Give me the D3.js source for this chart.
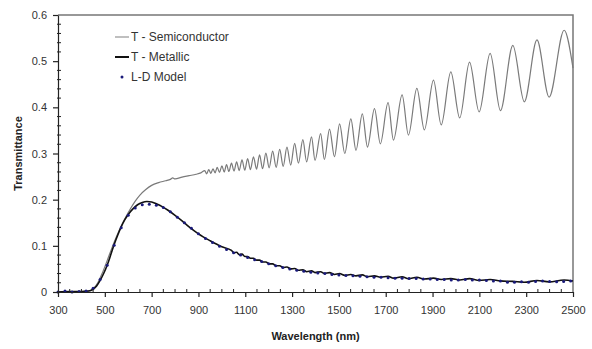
<!DOCTYPE html>
<html>
<head>
<meta charset="utf-8">
<script src="https://cdn.jsdelivr.net/npm/d3@7"></script>
<style>
body { margin: 0; background: #fff; }
svg text { font-family: "Liberation Sans", Arial, sans-serif; fill: #333; }
.axis-title { font-weight: bold; font-size: 11px; fill: #222; }
</style>
</head>
<body>
<div class="chart-wrapper"></div>
<script>

// wavelength (nm) / transmittance
const semiconductor = [
	[300,0],[350,0.001],[400,0.001],[430,0.002],[450,0.007],[470,0.02],[490,0.042],[510,0.068],
	[530,0.095],[550,0.12],[570,0.143],[590,0.163],[610,0.181],[630,0.197],[650,0.21],[675,0.222],
	[700,0.231],[730,0.237],[760,0.241],[780,0.244],[790,0.247],[800,0.245],[830,0.249],[860,0.252],
	[890,0.255],[910,0.258],
	[927,0.263],[935,0.256],[944,0.265],[953,0.257],[962,0.267],[971,0.258],[980,0.27],[990,0.259],
	[1000,0.273],[1010,0.26],[1020,0.276],[1030,0.261],[1041,0.279],[1052,0.262],[1063,0.282],[1074,0.263],
	[1086,0.286],[1098,0.264],[1110,0.289],[1122,0.265],[1135,0.293],[1148,0.266],[1161,0.297],[1174,0.267],
	[1188,0.301],[1202,0.269],[1217,0.305],[1232,0.27],[1247,0.309],[1262,0.272],[1278,0.314],[1294,0.275],
	[1311,0.322],[1327,0.279],[1346,0.33],[1362,0.282],[1383,0.336],[1398,0.285],[1422,0.343],[1438,0.287],
	[1460,0.353],[1481,0.293],[1503,0.364],[1525,0.3],[1551,0.375],[1573,0.307],[1600,0.386],[1622,0.314],
	[1652,0.397],[1677,0.321],[1710,0.41],[1733,0.329],[1770,0.427],[1797,0.34],[1833,0.441],[1865,0.351],
	[1904,0.459],[1937,0.362],[1978,0.477],[2016,0.377],[2058,0.498],[2099,0.39],[2146,0.517],[2190,0.393],
	[2243,0.534],[2292,0.412],[2346,0.546],[2398,0.422],[2462,0.567],[2500,0.485]
]

const metallic = [
	[300,0],[350,0.001],[400,0.001],[430,0.002],[450,0.006],[465,0.013],[480,0.025],[495,0.04],
	[510,0.058],[525,0.08],[540,0.103],[555,0.123],[570,0.141],[585,0.156],[600,0.168],[620,0.18],
	[640,0.189],[660,0.194],[680,0.196],[700,0.195],[720,0.191],[745,0.185],[770,0.177],[800,0.166],
	[830,0.154],[860,0.141],[900,0.126],[950,0.111],[1000,0.098],
	[1041,0.09],[1052,0.085],[1063,0.086],[1074,0.081],[1086,0.082],[1098,0.077],[1110,0.077],[1122,0.073],
	[1135,0.073],[1148,0.069],[1161,0.069],[1174,0.065],[1188,0.065],[1202,0.061],[1217,0.061],[1232,0.057],
	[1247,0.057],[1262,0.053],[1278,0.054],[1294,0.05],[1311,0.051],[1327,0.047],[1346,0.048],[1362,0.044],
	[1383,0.046],[1398,0.042],[1422,0.044],[1438,0.04],[1460,0.042],[1481,0.038],[1503,0.04],[1525,0.036],
	[1551,0.038],[1573,0.035],[1600,0.037],[1622,0.033],[1652,0.035],[1677,0.032],[1710,0.034],[1733,0.03],
	[1770,0.033],[1797,0.029],[1833,0.032],[1865,0.028],[1904,0.03],[1937,0.027],[1978,0.029],[2016,0.026],
	[2058,0.029],[2099,0.025],[2146,0.027],[2190,0.024],[2243,0.023],[2292,0.021],[2346,0.025],[2398,0.022],
	[2462,0.026],[2500,0.024]
]

const ldModel = [
	[300,0],[330,0.002],[360,0],[390,0.001],[420,0.002],[450,0.008],[480,0.027],[510,0.058],
	[540,0.101],[570,0.139],[600,0.166],[630,0.182],[660,0.189],[690,0.19],[720,0.188],[750,0.183],
	[780,0.174],[810,0.162],[840,0.15],[870,0.138],[900,0.126],[930,0.116],[960,0.107],[990,0.099],
	[1020,0.092],[1050,0.085],[1080,0.08],[1110,0.075],[1140,0.07],[1170,0.066],[1200,0.061],[1230,0.057],
	[1260,0.053],[1290,0.05],[1320,0.047],[1350,0.045],[1380,0.043],[1410,0.041],[1440,0.04],[1470,0.038],
	[1500,0.037],[1530,0.036],[1560,0.035],[1590,0.034],[1620,0.033],[1650,0.032],[1680,0.032],[1710,0.031],
	[1740,0.03],[1770,0.03],[1800,0.029],[1830,0.029],[1860,0.028],[1890,0.028],[1920,0.027],[1950,0.027],
	[1980,0.026],[2010,0.026],[2040,0.027],[2070,0.026],[2100,0.026],[2130,0.025],[2160,0.024],[2190,0.024],
	[2220,0.021],[2250,0.021],[2280,0.022],[2310,0.021],[2340,0.023],[2370,0.024],[2400,0.023],[2430,0.022],
	[2460,0.023],[2490,0.024]
]

const xTicks = [300,500,700,900,1100,1300,1500,1700,1900,2100,2300,2500]
const yTicks = [0,0.1,0.2,0.3,0.4,0.5,0.6]
const legendItems = ['T - Semiconductor', 'T - Metallic', 'L-D Model']

let width = 592
let height = 349
let margin = {top: 15, right: 19, bottom: 57, left: 58}

let svg = d3.select('.chart-wrapper').append('svg')
.attr('width', width)
.attr('height', height)

let x = d3.scaleLinear().domain([300, 2500]).range([margin.left, width - margin.right])
let y = d3.scaleLinear().domain([0, 0.6]).range([height - margin.bottom, margin.top])

// frame (top / right)
svg.append('path')
.attr('d', `M${x(300)},${y(0.6)}H${x(2500)}V${y(0)}`)
.attr('fill', 'none')
.attr('stroke', '#777')
.attr('stroke-width', 1.5)

let line = d3.line()
.x(d => x(d[0]))
.y(d => y(d[1]))
.curve(d3.curveMonotoneX)

svg.append('path')
.datum(semiconductor)
.attr('d', line)
.attr('fill', 'none')
.attr('stroke', '#7a7a7a')
.attr('stroke-width', 1.2)

svg.append('path')
.datum(metallic)
.attr('d', line)
.attr('fill', 'none')
.attr('stroke', '#111')
.attr('stroke-width', 1.6)

svg.append('g')
.selectAll('circle')
.data(ldModel)
.enter()
.append('circle')
.attr('cx', d => x(d[0]))
.attr('cy', d => y(d[1]))
.attr('r', 1.5)
.attr('fill', '#1a1a7a')

// X AXIS

let xAxis = svg.append('g')
.attr('transform', `translate(0,${y(0)})`)
.call(d3.axisBottom(x).tickValues(xTicks).tickFormat(d3.format('d')).tickSize(5).tickSizeOuter(0).tickPadding(9))

xAxis.selectAll('text').style('font-size', '11px')

svg.append('g')
.selectAll('line')
.data(d3.range(300, 2501, 50).filter(v => xTicks.indexOf(v) == -1))
.enter()
.append('line')
.attr('x1', d => x(d)).attr('x2', d => x(d))
.attr('y1', y(0) - 3).attr('y2', y(0) + 1)
.attr('stroke', '#222')

// Y AXIS

let yAxis = svg.append('g')
.attr('transform', `translate(${x(300)},0)`)
.call(d3.axisLeft(y).tickValues(yTicks).tickFormat(d => d == 0 ? '0' : d3.format('.1f')(d)).tickSize(5).tickSizeOuter(0).tickPadding(6))

yAxis.selectAll('text').style('font-size', '11px')

svg.append('g')
.selectAll('line')
.data(d3.range(0, 0.601, 0.02).filter(v => Math.abs(v * 10 - Math.round(v * 10)) > 0.01))
.enter()
.append('line')
.attr('x1', x(300) - 1).attr('x2', x(300) + 3)
.attr('y1', d => y(d)).attr('y2', d => y(d))
.attr('stroke', '#222')

svg.selectAll('.domain, .tick line').attr('stroke', '#222').attr('stroke-width', 1.2)

// TITLES

svg.append('text')
.attr('class', 'axis-title')
.attr('x', (x(300) + x(2500)) / 2)
.attr('y', 340)
.attr('text-anchor', 'middle')
.text('Wavelength (nm)')

svg.append('text')
.attr('class', 'axis-title')
.attr('transform', `translate(22,${(y(0) + y(0.6)) / 2}) rotate(-90)`)
.attr('text-anchor', 'middle')
.text('Transmittance')

// LEGEND

let legend = svg.append('g').attr('transform', 'translate(115,37)')

legendItems.map((label, i) => {

	let row = legend.append('g').attr('transform', `translate(0,${i * 20})`)

	if(i == 0) row.append('line').attr('x1', 0).attr('x2', 14).attr('stroke', '#aaa').attr('stroke-width', 1.5)
	if(i == 1) row.append('line').attr('x1', 0).attr('x2', 14).attr('stroke', '#111').attr('stroke-width', 2)
	if(i == 2) row.append('circle').attr('cx', 7).attr('r', 1.5).attr('fill', '#1a1a7a')

	row.append('text')
	.attr('x', 16)
	.attr('dy', '0.35em')
	.style('font-size', '12px')
	.text(label)
})

</script>
</body>
</html>
